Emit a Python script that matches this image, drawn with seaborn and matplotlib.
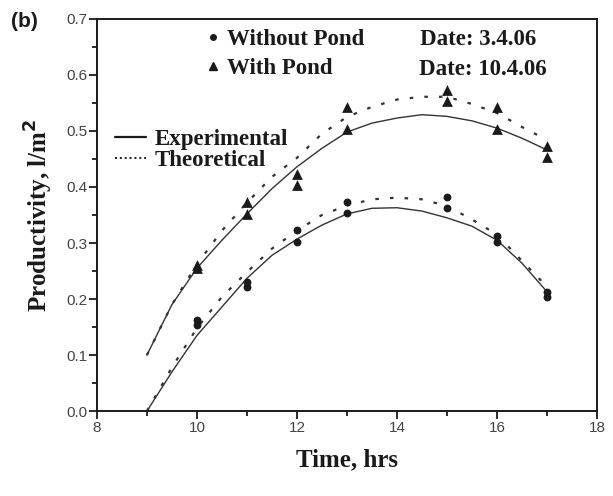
import numpy as np
import pandas as pd
import matplotlib
matplotlib.use("Agg")
import matplotlib.pyplot as plt
from matplotlib.lines import Line2D
import seaborn as sns

# measured points, two readings per hour
hours = [10, 11, 12, 13, 15, 16, 17]
without_a = [0.162, 0.230, 0.323, 0.373, 0.382, 0.312, 0.212]
without_b = [0.153, 0.222, 0.302, 0.354, 0.362, 0.302, 0.204]
with_a = [0.261, 0.373, 0.423, 0.543, 0.573, 0.543, 0.473]
with_b = [0.255, 0.352, 0.404, 0.503, 0.554, 0.504, 0.454]

# curves every half hour
t_curve = [9, 9.5, 10, 10.5, 11, 11.5, 12, 12.5, 13, 13.5, 14, 14.5, 15, 15.5, 16, 16.5, 17]
with_exp = [0.10, 0.19, 0.255, 0.305, 0.352, 0.397, 0.436, 0.469, 0.498, 0.514, 0.523, 0.529,
            0.526, 0.518, 0.505, 0.487, 0.466]
with_theo = [0.10, 0.19, 0.262, 0.322, 0.372, 0.418, 0.452, 0.495, 0.525, 0.543, 0.556, 0.561,
             0.561, 0.548, 0.532, 0.507, 0.484]
without_exp = [0.0, 0.07, 0.135, 0.186, 0.237, 0.278, 0.307, 0.332, 0.352, 0.362, 0.363, 0.357,
               0.345, 0.330, 0.305, 0.264, 0.213]
without_theo = [0.0, 0.078, 0.148, 0.204, 0.248, 0.29, 0.322, 0.35, 0.367, 0.378, 0.381, 0.378,
                0.366, 0.342, 0.315, 0.268, 0.222]

pts = pd.DataFrame({
    "t": hours * 4,
    "p": without_a + without_b + with_a + with_b,
    "grp": ["without"] * 14 + ["with"] * 14,
})
curves = pd.DataFrame({
    "t": t_curve * 4,
    "p": with_exp + with_theo + without_exp + without_theo,
    "kind": (["exp"] * 17 + ["theo"] * 17) * 2,
    "grp": ["with"] * 34 + ["without"] * 34,
})

sns.set_style("ticks")
plt.rcParams["font.family"] = ["Liberation Sans", "DejaVu Sans"]

fig = plt.figure(figsize=(6.13, 4.96), dpi=100)
ax = fig.add_axes([0.158, 0.171, 0.816, 0.791])

ink = "#1a1a1a"
for (g, k), d in curves.groupby(["grp", "kind"]):
    if k == "exp":
        sns.lineplot(data=d, x="t", y="p", ax=ax, color="#333333", lw=1.0,
                     estimator=None, sort=True)
    else:
        sns.lineplot(data=d, x="t", y="p", ax=ax, color="#333333", lw=1.6,
                     linestyle=(0, (1.6, 5)), estimator=None, sort=True)

sns.scatterplot(data=pts[pts.grp == "without"], x="t", y="p", ax=ax, marker="o",
                s=32, color=ink, edgecolor=ink, linewidth=0, zorder=5)
sns.scatterplot(data=pts[pts.grp == "with"], x="t", y="p", ax=ax, marker="^",
                s=60, color=ink, edgecolor=ink, linewidth=0, zorder=5)

ax.set_xlim(8, 18)
ax.set_ylim(0, 0.7)
ax.set_xticks([8, 10, 12, 14, 16, 18])
ax.set_xticks([9, 11, 13, 15, 17], minor=True)
ax.set_yticks(np.round(np.arange(0, 0.71, 0.1), 1))
ax.set_yticks(np.round(np.arange(0.05, 0.7, 0.1), 2), minor=True)
ax.set_yticklabels([f"{v:.1f}" for v in np.arange(0, 0.71, 0.1)])
ax.tick_params(which="major", length=6, width=1.3, color=ink, labelsize=11,
               labelcolor="#444444", direction="out", pad=1)
ax.tick_params(which="minor", length=3.5, width=1.3, color=ink, direction="out")
for s in ax.spines.values():
    s.set_linewidth(1.4)
    s.set_color(ink)
    s.set_visible(True)

serif = dict(family=["Liberation Serif", "DejaVu Serif"], weight="bold", color=ink)
ax.set_xlabel("Time, hrs", fontsize=18, labelpad=10, **serif)
ax.set_ylabel("Productivity, l/m$^\\mathbf{2}$", fontsize=18, labelpad=8, **serif)

h1 = [Line2D([], [], marker="o", color=ink, ls="none", ms=4),
      Line2D([], [], marker="^", color=ink, ls="none", ms=6)]
leg1 = ax.legend(h1, ["Without Pond", "With Pond"], loc="upper left",
                 bbox_to_anchor=(0.178, 1.028), frameon=False, handlelength=0.6,
                 handletextpad=0.3, labelspacing=0.37,
                 prop=dict(family="Liberation Serif", weight="bold", size=16.5))
for t in leg1.get_texts():
    t.set_color(ink)
ax.add_artist(leg1)

h2 = [Line2D([], [], color=ink, lw=1.6),
      Line2D([], [], color=ink, lw=1.4, ls=(0, (1, 1.5)))]
leg2 = ax.legend(h2, ["Experimental", "Theoretical"], loc="upper left",
                 bbox_to_anchor=(-0.005, 0.772), frameon=False, handlelength=1.35,
                 handletextpad=0.4, labelspacing=-0.02,
                 prop=dict(family="Liberation Serif", weight="bold", size=16.5))
for t in leg2.get_texts():
    t.set_color(ink)

ax.text(0.647, 0.947, "Date: 3.4.06", transform=ax.transAxes, fontsize=16.5,
        va="center", ha="left", **serif)
ax.text(0.645, 0.872, "Date: 10.4.06", transform=ax.transAxes, fontsize=16.5,
        va="center", ha="left", **serif)

fig.text(0.018, 0.975, "(b)", fontsize=15, weight="bold", va="top", ha="left",
         family="Liberation Sans", color=ink)

fig.savefig("out.png", dpi=100)
